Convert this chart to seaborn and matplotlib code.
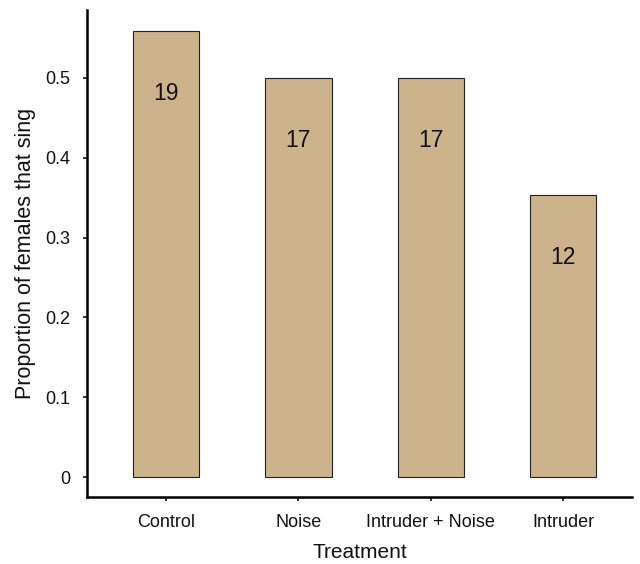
import matplotlib
matplotlib.use("Agg")
import matplotlib.pyplot as plt
import seaborn as sns
import pandas as pd

treatments = ["Control", "Noise", "Intruder + Noise", "Intruder"]
proportions = [19/34, 17/34, 17/34, 12/34]
counts = [19, 17, 17, 12]
yticks = [0, 0.1, 0.2, 0.3, 0.4, 0.5]
ytick_labels = ["0", "0.1", "0.2", "0.3", "0.4", "0.5"]

sns.set_theme(style="ticks")
plt.rcParams['font.family'] = ['Liberation Sans', 'DejaVu Sans']
plt.rcParams['text.color'] = '#111111'
plt.rcParams['axes.labelcolor'] = '#111111'
plt.rcParams['xtick.color'] = '#111111'
plt.rcParams['ytick.color'] = '#111111'

df = pd.DataFrame({"Treatment": treatments, "Proportion": proportions})

fig = plt.figure(figsize=(6.4, 5.64), dpi=100)
ax = fig.add_axes([0.136, 0.1188, 0.8515, 0.8632])
sns.barplot(data=df, x="Treatment", y="Proportion", color="#CDB38B",
            saturation=1, width=0.5, edgecolor="#222222", linewidth=0.8, ax=ax)

for i, (p, c) in enumerate(zip(proportions, counts)):
    ax.text(i, p - 0.078, str(c), ha="center", va="center", fontsize=16.5, color="#111111")

ax.set_ylim(-0.025, 0.585)
ax.set_xlim(-0.597, 3.52)
ax.set_yticks(yticks)
ax.set_yticklabels(ytick_labels)
ax.set_xlabel("Treatment", fontsize=15, labelpad=9)
ax.set_ylabel("Proportion of females that sing", fontsize=15.5, labelpad=7)
ax.tick_params(axis="both", labelsize=13, length=3, width=1.2, pad=9)
for s in ["top", "right"]:
    ax.spines[s].set_visible(False)
for s in ["left", "bottom"]:
    ax.spines[s].set_linewidth(1.8)
    ax.spines[s].set_color("black")

fig.savefig("out.png", dpi=100)
